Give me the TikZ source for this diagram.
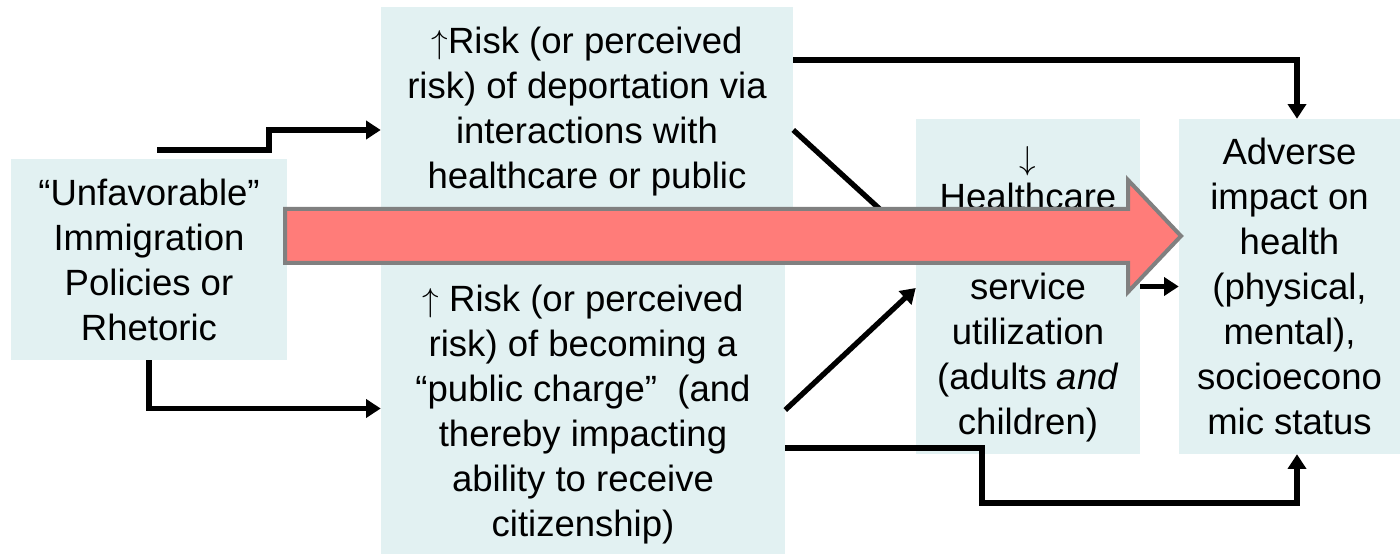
\documentclass[tikz,border=0pt]{standalone}
\usepackage{fontspec}
\setmainfont{Liberation Sans}
\usetikzlibrary{arrows.meta}
\definecolor{boxfill}{RGB}{226,241,242}
\definecolor{bigred}{RGB}{255,124,121}
\definecolor{bigedge}{RGB}{128,128,128}
\newcommand{\boxfont}{\fontsize{27.4pt}{33.75pt}\selectfont}
\tikzset{
  pbox/.style={fill=boxfill, inner sep=0pt},
  ptext/.style={inner sep=0pt, align=center, font=\boxfont},
  conn/.style={line width=4pt, line join=miter, -{Triangle[length=11pt,width=13.5pt]}},
  bigarrow/.style={fill=bigred, draw=bigedge, line width=3pt, line join=miter}
}
\begin{document}
\begin{tikzpicture}[x=0.75pt,y=-0.75pt]
\useasboundingbox (0,0) rectangle (1400,555);
% boxes
\node[pbox, minimum width=207pt, minimum height=150.75pt] (left) at (149,259.5) {};
\node[pbox, minimum width=309pt, minimum height=192pt] (top) at (587,135) {};
\node[pbox, minimum width=303pt, minimum height=218.25pt] (bot) at (583,408.5) {};
\node[pbox, minimum width=168pt, minimum height=251.25pt] (hc) at (1028,286.5) {};
\node[pbox, minimum width=165.75pt, minimum height=251.25pt] (adv) at (1289.5,286.5) {};
% texts
\node[ptext] (leftT) at (149,259.5)
  {“Unfavorable”\\Immigration\\Policies or\\Rhetoric};
\node[ptext] (topT) at (587,130)
  {$\uparrow$Risk (or perceived\\risk) of deportation via\\interactions with\\healthcare or public\\\mbox{}};
\node[ptext] (botT) at (583,415)
  {$\uparrow$ Risk (or perceived\\risk) of becoming a\\“public charge”~ (and\\thereby impacting\\ability to receive\\citizenship)};
\node[ptext] (hcT) at (1028,294)
  {$\downarrow$\\[-4pt]Healthcare\\\mbox{}\\service\\utilization\\(adults \textit{and}\\children)};
\node[ptext] (advT) at (1289.5,286.5)
  {Adverse\\impact on\\health\\(physical,\\mental),\\socioecono\\mic status};
% helper coordinates
\coordinate (s1) at (157,150);
\coordinate (k1) at (269,150);
\coordinate (k2) at (269,130);
\coordinate (a3) at (1297,60);
\coordinate (r130) at (0,130);
\coordinate (r242) at (0,242);
\coordinate (r410) at (0,410);
\coordinate (r288) at (0,288);
\coordinate (r448) at (0,448);
\coordinate (b1) at (982,503);
% connectors
\draw[conn] (s1) -- (k1) -- (k2) -- (top.west |- k2);
\draw[conn] (left.south) |- (bot.west);
\draw[conn] (top.east |- a3) -| (adv.north -| a3);
\draw[conn] (top.east |- r130) -- (hc.west |- r242);
\draw[conn] (bot.east |- r410) -- (hc.west |- r288);
\draw[conn] (hc.east) -- (adv.west);
\draw[conn] (bot.east |- r448) -| (b1) -| (adv.south -| a3);
% big red arrow
\draw[bigarrow] (285,209) -- (1128,209) -- (1128,180) -- (1181,236)
  -- (1128,292) -- (1128,263) -- (285,263) -- cycle;
\end{tikzpicture}
\end{document}
